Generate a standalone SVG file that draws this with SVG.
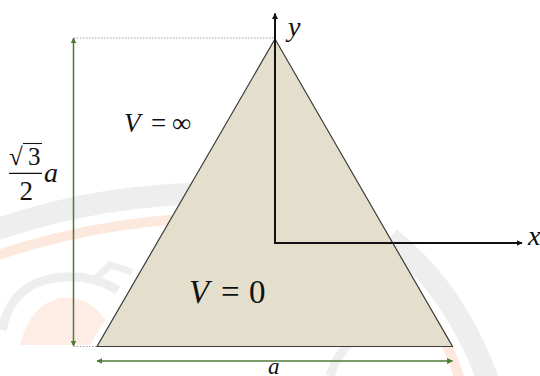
<svg xmlns="http://www.w3.org/2000/svg" width="540" height="376" viewBox="0 0 540 376">
  <defs>
    <marker id="arrBlack" viewBox="0 0 10 10" refX="9" refY="5" markerWidth="6" markerHeight="6" markerUnits="userSpaceOnUse" orient="auto-start-reverse">
      <path d="M0,0 L10,5 L0,10 Z" fill="#111"/>
    </marker>
    <marker id="arrGreen" viewBox="0 0 10 10" refX="9" refY="5" markerWidth="6" markerHeight="6" markerUnits="userSpaceOnUse" orient="auto-start-reverse">
      <path d="M0,0 L10,5 L0,10 Z" fill="#4e7a36"/>
    </marker>
  </defs>
  <style>
    .it { font-style: italic; }
    .dim { stroke: #4e7a36; stroke-width: 1.5; fill: none; }
    .axis { stroke: #111; stroke-width: 2; fill: none; }
    .guide { stroke: #8a8a8a; stroke-width: 0.8; stroke-dasharray: 1.5 1.5; fill: none; }
    .wmGray { fill: none; stroke: #eeeeee; }
    .wmPeach { fill: none; stroke: #fce8dd; }
  </style>
  <rect width="540" height="376" fill="#ffffff"/>

  <g id="watermark">
    <path class="wmGray" stroke-width="22" d="M-10,232 Q120,185 270,195"/>
    <path class="wmPeach" stroke-width="10" d="M-10,258 Q120,212 270,218"/>
    <path class="wmGray" stroke-width="22" d="M390,238 Q455,290 488,380"/>
    <path class="wmPeach" stroke-width="10" d="M418,300 Q445,332 460,380"/>
    <path class="wmGray" stroke-width="9" d="M2,330 Q10,290 45,280 Q85,270 118,290"/>
    <path d="M20,345 Q30,305 60,298 Q90,296 105,320 L90,345 Z" fill="#fdede5"/>
    <path class="wmGray" stroke-width="7" d="M92,282 L110,265 L132,272"/>
    <path class="wmGray" stroke-width="9" d="M330,376 Q345,330 390,325"/>
  </g>

  <g id="triangle">
    <polygon points="275,39 452.5,346.5 97,346.5" fill="#e4decd" stroke="#3c3c3c" stroke-width="1.2"/>
  </g>

  <g id="connectors">
    <line class="guide" x1="74" y1="38" x2="275" y2="38"/>
    <line class="guide" x1="74" y1="346.5" x2="97" y2="346.5"/>
    <line class="dim" x1="73.5" y1="38" x2="73.5" y2="346" marker-start="url(#arrGreen)" marker-end="url(#arrGreen)"/>
    <line class="dim" x1="97" y1="361" x2="452.5" y2="361" marker-start="url(#arrGreen)" marker-end="url(#arrGreen)"/>
    <polyline class="axis" points="275,13.5 275,243 522,243" marker-start="url(#arrBlack)" marker-end="url(#arrBlack)"/>
  </g>

  <g id="labels" font-family="Liberation Serif, Times New Roman, DejaVu Serif, serif" fill="#111">
    <text class="it" x="288" y="36" font-size="28">y</text>
    <text class="it" x="528" y="245" font-size="28">x</text>
    <text y="131.5" font-size="27"><tspan class="it" x="124">V</tspan><tspan x="151">=</tspan><tspan x="172">∞</tspan></text>
    <text y="303" font-size="33"><tspan class="it" x="189">V</tspan><tspan x="221">=</tspan><tspan x="249">0</tspan></text>
    <g id="fraction">
      <text x="9" y="165" font-size="25">√</text>
      <line x1="23" y1="143.5" x2="42" y2="143.5" stroke="#111" stroke-width="1.1"/>
      <text x="28" y="165" font-size="25">3</text>
      <line x1="9" y1="173.3" x2="42" y2="173.3" stroke="#111" stroke-width="1.2"/>
      <text x="19.5" y="200" font-size="27">2</text>
      <text class="it" x="44" y="182" font-size="28">a</text>
    </g>
    <text class="it" x="268" y="374" font-size="23">a</text>
  </g>
</svg>
